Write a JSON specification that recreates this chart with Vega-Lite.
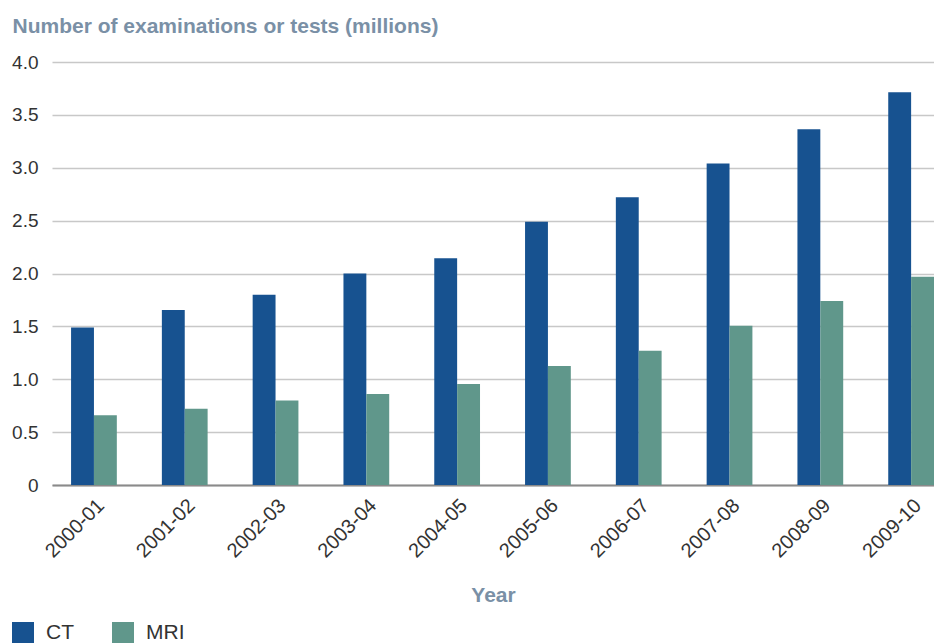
{
  "$schema": "https://vega.github.io/schema/vega-lite/v6.json",
  "width": 882,
  "height": 423,
  "autosize": {"type": "none"},
  "padding": {"left": 52, "top": 62, "right": 0, "bottom": 158},
  "config": {
    "font": "Liberation Sans",
    "view": {"stroke": null},
    "axis": {"labelFont": "Liberation Sans", "titleFont": "Liberation Sans"}
  },
  "data": {
    "values": [
      {"year": "2000-01", "type": "CT", "value": 1.49},
      {"year": "2001-02", "type": "CT", "value": 1.655},
      {"year": "2002-03", "type": "CT", "value": 1.80},
      {"year": "2003-04", "type": "CT", "value": 2.00},
      {"year": "2004-05", "type": "CT", "value": 2.145},
      {"year": "2005-06", "type": "CT", "value": 2.49},
      {"year": "2006-07", "type": "CT", "value": 2.72},
      {"year": "2007-08", "type": "CT", "value": 3.04},
      {"year": "2008-09", "type": "CT", "value": 3.365},
      {"year": "2009-10", "type": "CT", "value": 3.715},
      {"year": "2000-01", "type": "MRI", "value": 0.66},
      {"year": "2001-02", "type": "MRI", "value": 0.72},
      {"year": "2002-03", "type": "MRI", "value": 0.80},
      {"year": "2003-04", "type": "MRI", "value": 0.86},
      {"year": "2004-05", "type": "MRI", "value": 0.955},
      {"year": "2005-06", "type": "MRI", "value": 1.125},
      {"year": "2006-07", "type": "MRI", "value": 1.27},
      {"year": "2007-08", "type": "MRI", "value": 1.505},
      {"year": "2008-09", "type": "MRI", "value": 1.74},
      {"year": "2009-10", "type": "MRI", "value": 1.97}
    ]
  },
  "mark": {"type": "bar"},
  "encoding": {
    "x": {
      "field": "year",
      "type": "nominal",
      "scale": {"paddingInner": 0.496, "paddingOuter": 0.105, "align": 1},
      "axis": {
        "title": "Year",
        "titleFontSize": 21,
        "titleFontWeight": "bold",
        "titleColor": "#7a90a6",
        "titleY": 110,
        "titleBaseline": "middle",
        "labelAngle": -45,
        "labelAlign": "right",
        "labelBaseline": "top",
        "labelFontSize": 20,
        "labelColor": "#333333",
        "labelPadding": 10,
        "ticks": false,
        "domainColor": "#8a8a8a",
        "domainWidth": 2
      }
    },
    "xOffset": {"field": "type", "type": "nominal"},
    "y": {
      "field": "value",
      "type": "quantitative",
      "scale": {"domain": [0, 4]},
      "axis": {
        "values": [0, 0.5, 1, 1.5, 2, 2.5, 3, 3.5, 4],
        "labelExpr": "datum.value == 0 ? '0' : format(datum.value, '.1f')",
        "title": "Number of examinations or tests (millions)",
        "titleAngle": 0,
        "titleAlign": "left",
        "titleBaseline": "middle",
        "titleX": -40,
        "titleY": -36,
        "titleFontSize": 21,
        "titleFontWeight": "bold",
        "titleColor": "#7a90a6",
        "labelFontSize": 19,
        "labelColor": "#333333",
        "labelPadding": 14,
        "ticks": false,
        "domain": false,
        "gridColor": "#c8c8c8",
        "gridWidth": 1.5
      }
    },
    "color": {
      "field": "type",
      "type": "nominal",
      "scale": {"domain": ["CT", "MRI"], "range": ["#175290", "#60978b"]},
      "legend": {
        "title": null,
        "orient": "none",
        "direction": "horizontal",
        "legendX": -40,
        "legendY": 560,
        "symbolType": "square",
        "symbolSize": 484,
        "symbolStrokeWidth": 0,
        "symbolOpacity": 1,
        "labelFontSize": 21,
        "labelColor": "#333333",
        "labelOffset": 12,
        "columnPadding": 38
      }
    }
  }
}
